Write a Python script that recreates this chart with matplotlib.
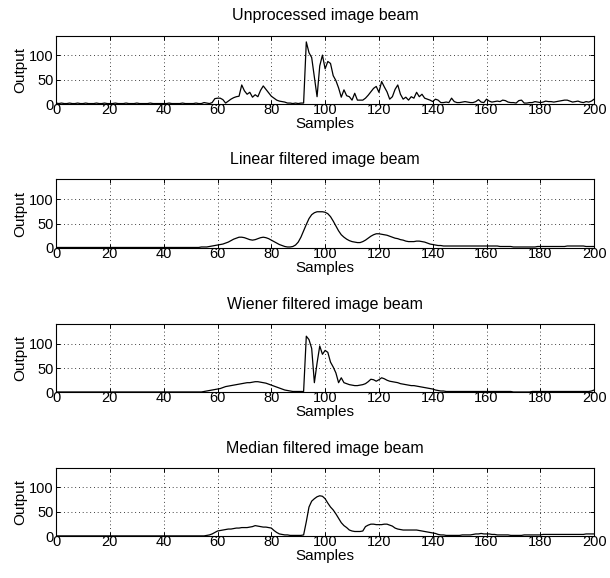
import matplotlib
matplotlib.use("Agg")
import matplotlib.pyplot as plt
import numpy as np

# ----------------------------------------------------
# Data (one value per sample, 0..200)
# ----------------------------------------------------
samples = np.arange(201)

unprocessed = [
    2, 1, 2, 1, 1, 2, 1, 1, 2, 1,
    1, 2, 1, 1, 1, 2, 1, 1, 2, 1,
    1, 1, 2, 1, 1, 1, 2, 1, 1, 1,
    2, 1, 1, 1, 1, 2, 1, 1, 1, 1,
    1, 1, 2, 1, 1, 1, 1, 2, 1, 1,
    1, 1, 2, 1, 1, 3, 2, 1, 3, 11,
    12, 12, 9, 2, 6, 10, 13, 15, 16, 39,
    27, 20, 24, 14, 19, 15, 28, 37, 30, 23,
    16, 12, 8, 6, 5, 4, 2, 2, 1, 2,
    1, 2, 2, 127, 105, 95, 55, 15, 78, 100,
    72, 87, 83, 58, 48, 33, 14, 29, 17, 15,
    8, 22, 8, 8, 8, 12, 18, 25, 32, 36,
    24, 46, 35, 25, 10, 15, 30, 39, 20, 10,
    14, 8, 15, 12, 24, 15, 20, 12, 10, 8,
    5, 10, 8, 3, 3, 4, 3, 12, 5, 3,
    3, 4, 5, 4, 3, 3, 5, 9, 4, 3,
    10, 6, 4, 5, 6, 5, 8, 7, 4, 3,
    3, 2, 7, 8, 2, 2, 3, 3, 5, 4,
    3, 4, 6, 5, 5, 4, 5, 6, 7, 8,
    8, 6, 4, 5, 6, 4, 3, 5, 4, 6,
    10,
]

linear = [1] * 50 + [
    1, 1, 1, 1, 2, 2, 2, 3, 4, 5,
    6, 7, 8, 10, 12, 15, 18, 20, 22, 22,
    21, 19, 17, 16, 17, 19, 21, 22, 21, 19,
    16, 13, 10, 7, 5, 3, 2, 2, 3, 6,
    12, 22, 35, 48, 60, 68, 72, 74, 74, 74,
    73, 70, 64, 55, 45, 35, 27, 22, 18, 15,
    13, 12, 11, 11, 13, 16, 20, 24, 27, 29,
    29, 28, 27, 26, 24, 22, 20, 19, 17, 16,
    14, 13, 13, 13, 14, 14, 13, 12, 10, 8,
    7, 6, 5, 5, 4, 4, 4, 4, 4, 4,
    4, 4, 4, 4, 4, 4, 4, 4, 4, 4,
    4, 4, 4, 4, 4, 3, 3, 3, 3, 3,
    2, 2, 2, 2, 2, 2, 2, 2, 2, 3,
    3, 3, 3, 3, 3, 3, 3, 3, 3, 3,
    4, 4, 4, 4, 4, 4, 4, 3, 3, 3,
    3,
]

wiener = [1] * 50 + [
    1, 1, 1, 1, 1, 2, 3, 4, 5, 6,
    7, 8, 10, 12, 13, 14, 15, 16, 17, 18,
    19, 20, 20, 21, 22, 22, 21, 20, 19, 17,
    15, 13, 11, 9, 7, 5, 4, 3, 2, 2,
    2, 2, 2, 115, 108, 90, 20, 60, 95, 78,
    86, 82, 62, 52, 40, 20, 30, 20, 18, 16,
    15, 14, 14, 15, 16, 18, 22, 27, 26, 23,
    26, 30, 28, 25, 23, 22, 21, 20, 18, 17,
    16, 15, 14, 14, 13, 12, 11, 10, 9, 8,
    7, 5, 4, 3, 3, 2, 2, 2, 2, 2,
    2, 2, 2, 2, 2, 2, 2, 2, 2, 2,
    2, 2, 2, 2, 2, 2, 2, 2, 2, 2,
    1, 1, 1, 1, 1, 1, 1, 2, 2, 2,
    2, 2, 2, 2, 2, 2, 2, 2, 2, 2,
    2, 2, 2, 2, 2, 2, 2, 2, 2, 3,
    5,
]

median = [1] * 50 + [
    1, 1, 1, 1, 1, 1, 2, 3, 5, 8,
    11, 12, 13, 14, 15, 15, 16, 17, 17, 18,
    18, 18, 19, 20, 22, 21, 20, 19, 19, 18,
    17, 12, 8, 5, 4, 3, 3, 2, 2, 2,
    2, 2, 3, 30, 60, 72, 77, 81, 83, 82,
    77, 68, 60, 54, 46, 37, 28, 22, 18, 13,
    11, 10, 10, 10, 11, 20, 23, 25, 25, 24,
    24, 24, 25, 25, 23, 21, 17, 15, 14, 13,
    13, 13, 13, 13, 13, 12, 11, 10, 9, 8,
    7, 6, 4, 3, 3, 2, 2, 2, 2, 2,
    2, 3, 3, 3, 3, 4, 5, 5, 6, 5,
    5, 5, 4, 4, 3, 3, 3, 3, 3, 2,
    2, 2, 2, 2, 3, 3, 3, 3, 3, 3,
    3, 4, 4, 4, 4, 4, 4, 4, 4, 4,
    4, 4, 4, 4, 4, 4, 4, 5, 5, 5,
    5,
]

titles = [
    "Unprocessed image beam",
    "Linear filtered image beam",
    "Wiener filtered image beam",
    "Median filtered image beam",
]
series = [unprocessed, linear, wiener, median]
x_ticks = list(range(0, 201, 20))
y_ticks = [0, 50, 100]

# ----------------------------------------------------
# Style
# ----------------------------------------------------
plt.rcParams["font.family"] = ["Liberation Sans", "DejaVu Sans"]
plt.rcParams["font.size"] = 10.5

fig = plt.figure(figsize=(6.10, 5.78), dpi=100)

# axes bottoms in figure fraction
bottoms = [0.820, 0.571, 0.321, 0.072]
left, width, height = 0.092, 0.882, 0.1185

for title, y, b in zip(titles, series, bottoms):
    ax = fig.add_axes([left, b, width, height])
    ax.plot(samples, y, color="black", linewidth=0.9)

    ax.set_xlim(0, 200)
    ax.set_ylim(0, 140)
    ax.set_xticks(x_ticks)
    ax.set_yticks(y_ticks)

    ax.grid(True, color="black", linestyle=(0, (1, 3.5)), linewidth=0.6)
    ax.tick_params(direction="in", top=True, right=True, length=3,
                   width=0.7, labelsize=10.5)
    ax.tick_params(axis="x", pad=-1)
    ax.tick_params(axis="y", pad=2)
    for sp in ax.spines.values():
        sp.set_linewidth(0.8)

    ax.set_title(title, fontsize=11.5, pad=11)
    ax.set_xlabel("Samples", fontsize=11, labelpad=0)
    ax.set_ylabel("Output", fontsize=11, labelpad=1)

plt.savefig("out.png", dpi=100)
plt.close()
